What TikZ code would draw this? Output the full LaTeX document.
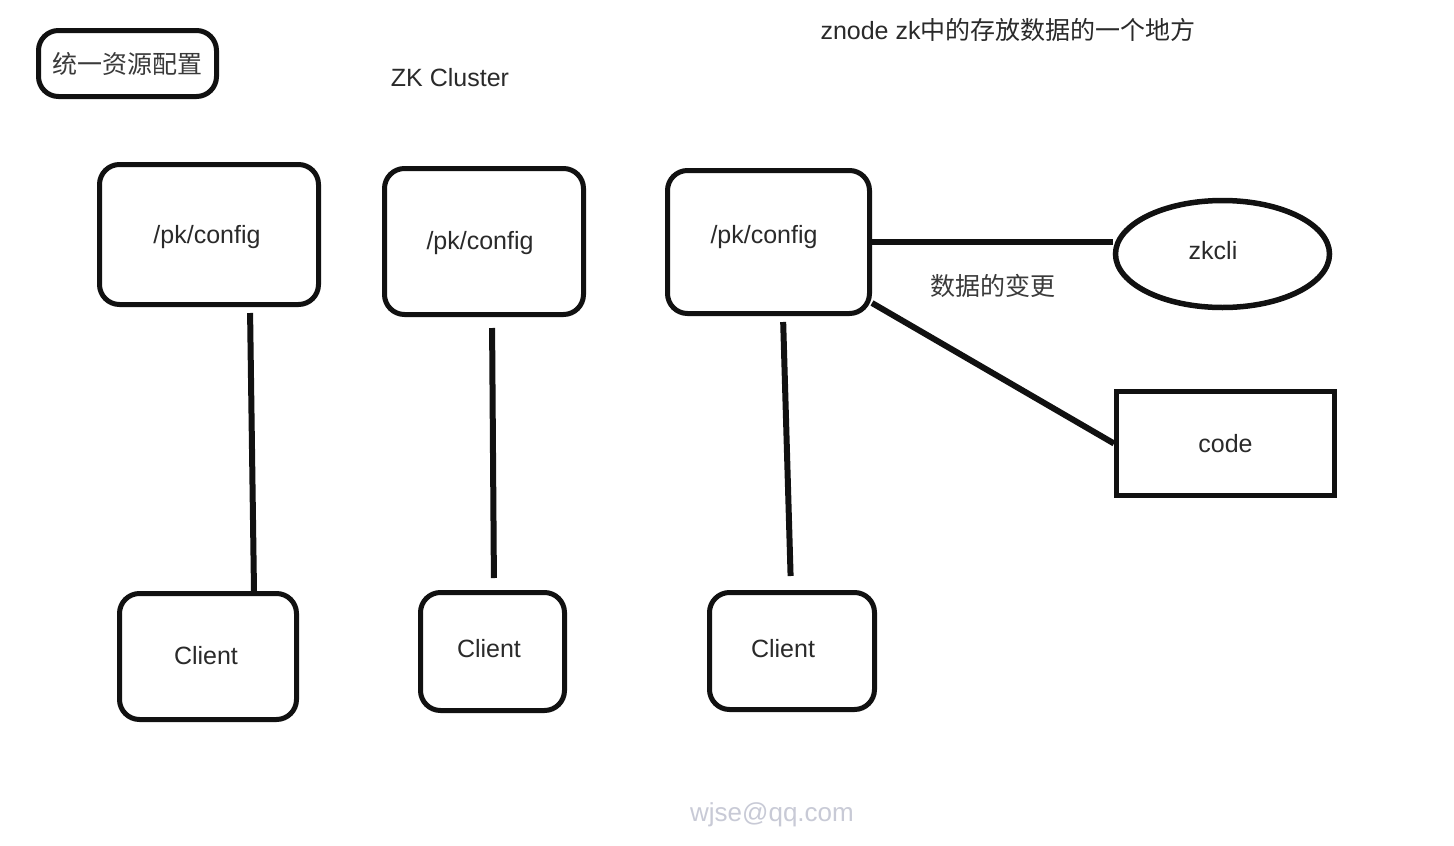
\documentclass[tikz,border=0pt]{standalone}
\usepackage{fontspec}
\setmainfont{Liberation Sans}
\newfontfamily\cjk{Noto Sans CJK SC}
\usetikzlibrary{shapes.geometric}
\definecolor{ink}{HTML}{111111}
\definecolor{txt}{HTML}{2A2A2A}
\definecolor{cjktxt}{HTML}{3A3A3A}
\definecolor{wm}{HTML}{C8CAD6}
\tikzset{
  rbox/.style={draw=ink, line width=5pt, rounded corners=20pt, font=\fontsize{25}{30}\selectfont, text=txt},
  sbox/.style={draw=ink, line width=5pt, font=\fontsize{25}{30}\selectfont, text=txt},
  ebox/.style={draw=ink, line width=5.5pt, ellipse, inner sep=0pt, font=\fontsize{25}{30}\selectfont, text=txt},
  label/.style={font=\fontsize{25}{30}\selectfont, text=txt},
  cjklabel/.style={font=\cjk\fontsize{25}{30}\selectfont, text=cjktxt},
  conn/.style={draw=ink, line width=6pt},
}
\begin{document}
\begin{tikzpicture}[x=1pt,y=-1pt]
\useasboundingbox[fill=white] (0,0) rectangle (1454,846);

\node[rbox, minimum width=178pt, minimum height=66pt, font=\cjk\fontsize{25}{30}\selectfont, text=cjktxt] (top) at (127.5,63.5) {统一资源配置};
\node[label] (cluster) at (450,78) {ZK Cluster};
\node[label, anchor=west] (znode) at (817,30) {znode zk{\cjk 中的存放数据的一个地方}};

\node[rbox, minimum width=219pt, minimum height=140pt] (b1) at (209,234.5) {};
\node[label] (t1) at (207,237) {/pk/config};
\node[rbox, minimum width=199pt, minimum height=146pt] (b2) at (484,241.5) {};
\node[label] (t2) at (480,243) {/pk/config};
\node[rbox, minimum width=202pt, minimum height=143pt] (b3) at (768.5,242) {};
\node[label] (t3) at (764,237) {/pk/config};

\node[rbox, minimum width=177pt, minimum height=126pt] (c1) at (208,656.5) {};
\node[label] (ct1) at (206,656) {Client};
\node[rbox, minimum width=144pt, minimum height=118pt] (c2) at (492.5,651.5) {};
\node[label] (ct2) at (489,649) {Client};
\node[rbox, minimum width=165pt, minimum height=117pt] (c3) at (792,651) {};
\node[label] (ct3) at (783,649) {Client};

\node[ebox, minimum width=214pt, minimum height=107pt] (zk) at (1222.5,254) {};
\node[label] (zkt) at (1213,251) {zkcli};
\node[sbox, minimum width=218pt, minimum height=104pt] (code) at (1225.5,443.5) {code};

\node[cjklabel] (chg) at (993,286) {数据的变更};

\draw[conn, shorten <=6pt] ([xshift=41pt]b1.south) -- ([xshift=46pt]c1.north);
\draw[conn, shorten <=11pt, shorten >=12pt] ([xshift=8pt]b2.south) -- ([xshift=1.5pt]c2.north);
\draw[conn, shorten <=6pt, shorten >=14pt] ([xshift=14.5pt]b3.south) -- ([xshift=-1pt]c3.north);

\draw[conn] (b3.east) -- (b3.east -| zk.west);
\draw[conn] ([yshift=-61pt]b3.east) -- (code.west);

\node[font=\fontsize{26}{30}\selectfont, text=wm] (wmark) at (772,815) {wjse@qq.com};
\end{tikzpicture}
\end{document}
